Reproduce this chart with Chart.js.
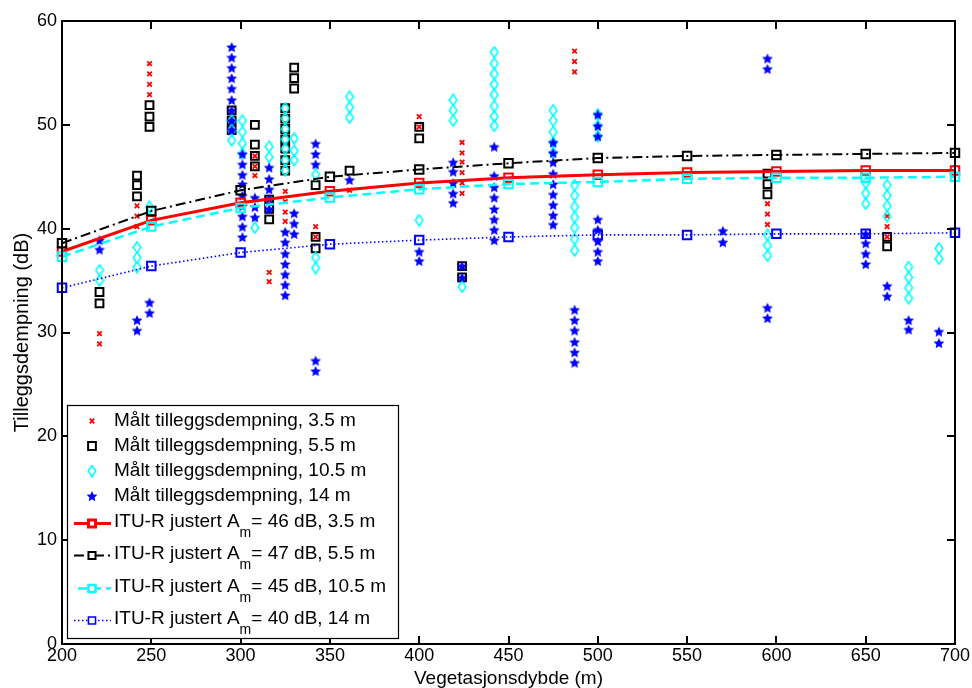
<!DOCTYPE html>
<html>
<head>
<meta charset="utf-8">
<title>Tilleggsdempning</title>
<script src="https://cdn.jsdelivr.net/npm/chart.js@4.4.0/dist/chart.umd.min.js"></script>
<style>
    html, body { margin: 0; padding: 0; background: #fff; }
    #chart { display: block; }
</style>
</head>
<body>
<canvas id="chart" width="972" height="688"></canvas>
<script>
// Measured extra attenuation, antenna height 3.5 m
const depth35 = [221, 221, 242, 242, 242, 249, 249, 249, 249, 295, 295, 308, 308, 308, 316, 316,
    325, 325, 325, 325, 342, 342, 361, 400, 400, 424, 424, 424, 424, 424, 424,
    487, 487, 487, 595, 595, 595, 662, 662, 662];
const meas35 = [29.9, 28.9, 42.2, 41.2, 40.2, 55.9, 54.9, 53.9, 52.9, 50.4, 49.5, 47.0, 46.0, 45.1, 35.8, 34.9,
    43.6, 42.6, 41.6, 40.7, 40.2, 39.2, 43.7, 50.8, 49.8, 48.3, 47.3, 46.4, 45.4, 44.4, 43.4,
    57.1, 56.1, 55.1, 42.4, 41.4, 40.4, 41.2, 40.2, 39.2];

// 5.5 m
const depth55 = [221, 221, 242, 242, 242, 249, 249, 249, 295, 295, 295, 308, 308, 308, 308, 316, 316, 316,
    325, 325, 325, 325, 325, 325, 325, 330, 330, 330, 342, 342, 342, 361, 400, 400,
    424, 424, 595, 595, 595, 662, 662];
const meas55 = [33.9, 32.8, 45.1, 44.2, 43.1, 51.9, 50.8, 49.8, 51.4, 50.4, 49.5, 50.0, 48.1, 47.0, 46.0, 42.8, 41.9, 40.9,
    51.6, 50.6, 49.6, 48.6, 47.7, 46.6, 45.6, 55.5, 54.5, 53.5, 44.2, 39.2, 38.1, 45.6, 49.8, 48.7,
    36.4, 35.3, 45.3, 44.3, 43.3, 39.2, 38.3];

// 10.5 m
const depth105 = [221, 221, 242, 242, 242, 249, 249, 295, 295, 295, 301, 301, 301, 301, 308, 316, 316,
    325, 325, 325, 325, 325, 325, 325, 330, 330, 330, 342, 342, 342, 361, 361, 361, 400,
    419, 419, 419, 424, 442, 442, 442, 442, 442, 442, 442, 442, 475, 475, 475, 475, 475,
    487, 487, 487, 487, 487, 487, 487, 500, 500, 500, 595, 595, 595, 650, 650, 650,
    662, 662, 662, 662, 674, 674, 674, 674, 691, 691];
const meas105 = [36.0, 35.0, 38.2, 37.2, 36.3, 42.1, 41.1, 50.4, 49.5, 48.5, 50.4, 49.3, 48.2, 47.2, 40.1, 47.9, 46.9,
    51.6, 50.6, 49.6, 48.6, 47.7, 46.6, 45.6, 48.7, 47.5, 46.6, 45.2, 37.2, 36.2, 52.7, 51.7, 50.7, 40.8,
    52.4, 51.4, 50.4, 34.4, 57.0, 55.9, 54.9, 53.9, 52.9, 51.8, 50.8, 49.9, 51.4, 50.4, 49.3, 48.3, 47.3,
    44.2, 43.2, 42.1, 41.1, 40.1, 39.0, 37.9, 51.0, 49.9, 48.9, 39.4, 38.4, 37.4, 44.4, 43.4, 42.4,
    44.2, 43.2, 42.2, 41.2, 36.3, 35.3, 34.3, 33.3, 38.1, 37.1];

// 14 m
const depth14 = [221, 221, 242, 242, 249, 249, 295, 295, 295, 295, 295, 295, 295, 295, 295,
    301, 301, 301, 301, 301, 301, 301, 301, 301, 308, 308, 308, 316, 316, 316, 316, 316,
    325, 325, 325, 325, 325, 325, 325, 330, 330, 330, 342, 342, 342, 342, 342, 361, 400, 400,
    419, 419, 419, 419, 419, 424, 424, 442, 442, 442, 442, 442, 442, 442, 442,
    475, 475, 475, 475, 475, 475, 475, 475, 475, 487, 487, 487, 487, 487, 487,
    500, 500, 500, 500, 500, 500, 500, 500, 570, 570, 595, 595, 595, 595,
    650, 650, 650, 650, 662, 662, 674, 674, 691, 691];
const meas14 = [38.9, 38.0, 31.2, 30.2, 32.9, 31.9, 57.5, 56.5, 55.5, 54.5, 53.5, 52.4, 51.4, 50.4, 49.5,
    47.2, 46.2, 45.2, 44.3, 43.2, 42.2, 41.2, 40.2, 39.2, 43.0, 42.1, 41.1, 45.9, 44.8, 43.8, 42.9, 41.9,
    39.7, 38.7, 37.6, 36.6, 35.6, 34.6, 33.6, 41.5, 40.5, 39.5, 48.2, 47.2, 46.2, 27.3, 26.3, 44.7, 37.8, 36.9,
    46.4, 45.5, 44.4, 43.4, 42.5, 36.4, 35.3, 47.9, 45.1, 44.0, 43.0, 41.9, 40.9, 39.9, 38.9,
    48.3, 47.3, 46.4, 45.3, 44.3, 43.3, 42.3, 41.3, 40.4, 32.2, 31.2, 30.2, 29.1, 28.1, 27.1,
    51.0, 49.9, 48.9, 40.9, 39.9, 38.8, 37.8, 36.9, 39.8, 38.7, 56.4, 55.4, 32.4, 31.4,
    39.5, 38.6, 37.6, 36.6, 34.5, 33.5, 31.2, 30.3, 30.1, 29.0];

// ITU-R adjusted model curves
const ituDepth = [200, 250, 300, 350, 400, 450, 500, 550, 600, 650, 700];
const itu35 = [37.8, 40.8, 42.5, 43.6, 44.4, 44.9, 45.2, 45.4, 45.5, 45.6, 45.6];
const itu55 = [38.6, 41.7, 43.7, 45.0, 45.7, 46.3, 46.8, 47.0, 47.1, 47.2, 47.3];
const itu105 = [37.3, 40.2, 42.0, 43.0, 43.8, 44.3, 44.5, 44.8, 44.9, 44.9, 45.0];
const itu14 = [34.3, 36.4, 37.7, 38.5, 38.9, 39.2, 39.4, 39.4, 39.5, 39.5, 39.6];

const xTicks = [200, 250, 300, 350, 400, 450, 500, 550, 600, 650, 700];
const yTicks = [0, 10, 20, 30, 40, 50, 60];

const FONT = "'Liberation Sans', Arial, sans-serif";

function pairs(xs, ys) {
    return xs.map((x, i) => ({ x: x, y: ys[i] }));
}

// matlab style markers that chart.js doesn't have
function makeDiamond(color) {
    const c = document.createElement('canvas');
    c.width = 10; c.height = 13;
    const g = c.getContext('2d');
    g.strokeStyle = color;
    g.lineWidth = 1.6;
    g.beginPath();
    g.moveTo(5, 1); g.lineTo(8.8, 6.5); g.lineTo(5, 12); g.lineTo(1.2, 6.5);
    g.closePath();
    g.stroke();
    return c;
}

function makeStar(color) {
    const c = document.createElement('canvas');
    c.width = 12; c.height = 12;
    const g = c.getContext('2d');
    g.fillStyle = color;
    g.beginPath();
    for (let i = 0; i < 10; i++) {
        const r = i % 2 ? 2.7 : 5.6;
        const a = -Math.PI / 2 + i * Math.PI / 5;
        g.lineTo(6 + r * Math.cos(a), 6.6 + r * Math.sin(a));
    }
    g.closePath();
    g.fill();
    return c;
}

const diamondCyan = makeDiamond('#00ffff');
const starBlue = makeStar('#0000ff');

const measSets = [
    { label: 'Målt tilleggsdempning, 3.5 m', data: pairs(depth35, meas35), order: 8,
      pointStyle: 'crossRot', pointRadius: 3.2, borderColor: '#ff0000', pointBorderWidth: 1.8 },
    { label: 'Målt tilleggsdempning, 5.5 m', data: pairs(depth55, meas55), order: 7,
      pointStyle: 'rect', pointRadius: 5.5, borderColor: '#000000', pointBorderWidth: 2 },
    { label: 'Målt tilleggsdempning, 10.5 m', data: pairs(depth105, meas105), order: 6,
      pointStyle: diamondCyan, pointRadius: 6, borderColor: '#00ffff' },
    { label: 'Målt tilleggsdempning, 14 m', data: pairs(depth14, meas14), order: 5,
      pointStyle: starBlue, pointRadius: 6, borderColor: '#0000ff' }
];

const lineSets = [
    { am: '46', h: '3.5', data: pairs(ituDepth, itu35), color: '#ff0000', width: 3, dash: [], order: 4 },
    { am: '47', h: '5.5', data: pairs(ituDepth, itu55), color: '#000000', width: 2, dash: [10, 4, 2, 4], order: 3 },
    { am: '45', h: '10.5', data: pairs(ituDepth, itu105), color: '#00ffff', width: 2.5, dash: [9, 5], order: 2 },
    { am: '40', h: '14', data: pairs(ituDepth, itu14), color: '#0000ff', width: 1.6, dash: [1.5, 2.5], order: 1 }
];

const datasets = [];
measSets.forEach(s => {
    datasets.push({
        type: 'scatter',
        label: s.label,
        data: s.data,
        order: s.order,
        showLine: false,
        pointStyle: s.pointStyle,
        pointRadius: s.pointRadius,
        pointBorderColor: s.borderColor,
        pointBackgroundColor: 'rgba(0,0,0,0)',
        pointBorderWidth: s.pointBorderWidth || 1,
        clip: false
    });
});
lineSets.forEach(s => {
    datasets.push({
        type: 'line',
        label: 'ITU-R justert Am = ' + s.am + ' dB, ' + s.h + ' m',
        data: s.data,
        order: s.order,
        borderColor: s.color,
        borderWidth: s.width,
        borderDash: s.dash,
        tension: 0,
        fill: false,
        pointStyle: 'rect',
        pointRadius: 6,
        pointBorderColor: s.color,
        pointBackgroundColor: 'rgba(0,0,0,0)',
        pointBorderWidth: 2,
        clip: false
    });
});

// matlab box with inward ticks on all four sides
const framePlugin = {
    id: 'frame',
    afterDatasetsDraw(chart) {
        const { ctx, chartArea: a, scales: { x, y } } = chart;
        ctx.save();
        ctx.strokeStyle = '#000';
        ctx.lineWidth = 2;
        ctx.setLineDash([]);
        ctx.strokeRect(a.left, a.top, a.right - a.left, a.bottom - a.top);
        ctx.beginPath();
        xTicks.forEach(v => {
            const px = Math.round(x.getPixelForValue(v));
            ctx.moveTo(px, a.bottom); ctx.lineTo(px, a.bottom - 8);
            ctx.moveTo(px, a.top); ctx.lineTo(px, a.top + 8);
        });
        yTicks.forEach(v => {
            const py = Math.round(y.getPixelForValue(v));
            ctx.moveTo(a.left, py); ctx.lineTo(a.left + 8, py);
            ctx.moveTo(a.right, py); ctx.lineTo(a.right - 8, py);
        });
        ctx.stroke();
        ctx.restore();
    }
};

function drawMarker(ctx, ds, cx, cy) {
    const st = ds.pointStyle;
    if (st instanceof HTMLCanvasElement) {
        ctx.drawImage(st, cx - st.width / 2, cy - st.height / 2);
        return;
    }
    ctx.fillStyle = 'rgba(0,0,0,0)';
    Chart.helpers.drawPoint(ctx, {
        pointStyle: st,
        radius: ds.pointRadius,
        borderWidth: ds.pointBorderWidth,
        rotation: 0
    }, cx, cy);
}

// legend box in the lower left corner, drawn by hand for the subscript
const legendPlugin = {
    id: 'matlabLegend',
    afterDraw(chart) {
        const ctx = chart.ctx;
        const ds = chart.data.datasets;
        const bx = 67.5, by = 405.5, bw = 331, bh = 233;
        const mx = 92, tx = 114;
        const rows = [421, 446, 471, 496, 522, 554, 587, 619];

        ctx.save();
        ctx.fillStyle = '#fff';
        ctx.fillRect(bx, by, bw, bh);
        ctx.strokeStyle = '#000';
        ctx.lineWidth = 1.2;
        ctx.strokeRect(bx, by, bw, bh);

        ctx.textBaseline = 'middle';
        ctx.textAlign = 'left';

        for (let i = 0; i < 4; i++) {
            const d = ds[i];
            ctx.strokeStyle = d.pointBorderColor;
            ctx.lineWidth = d.pointBorderWidth;
            ctx.setLineDash([]);
            drawMarker(ctx, d, mx, rows[i]);
            ctx.fillStyle = '#000';
            ctx.font = '19px ' + FONT;
            ctx.fillText(d.label, tx, rows[i]);
        }

        lineSets.forEach((s, j) => {
            const cy = rows[4 + j];
            const ly = cy + 1.5;
            ctx.strokeStyle = s.color;
            ctx.lineWidth = s.width;
            ctx.setLineDash(s.dash);
            ctx.beginPath();
            ctx.moveTo(j === 2 ? 78 : 74, ly);
            ctx.lineTo(111, ly);
            ctx.stroke();
            ctx.setLineDash([]);
            ctx.fillStyle = '#fff';
            Chart.helpers.drawPoint(ctx, { pointStyle: 'rect', radius: 5, borderWidth: 2, rotation: 0 }, mx, ly);

            ctx.fillStyle = '#000';
            ctx.font = '19px ' + FONT;
            const head = 'ITU-R justert A';
            ctx.fillText(head, tx, cy);
            let x = tx + ctx.measureText(head).width;
            ctx.font = '14px ' + FONT;
            ctx.fillText('m', x, cy + 11);
            x += ctx.measureText('m').width;
            ctx.font = '19px ' + FONT;
            ctx.fillText('= ' + s.am + ' dB, ' + s.h + ' m', x, cy);
        });
        ctx.restore();
    }
};

new Chart(document.getElementById('chart'), {
    type: 'scatter',
    data: { datasets: datasets },
    options: {
        responsive: false,
        animation: false,
        events: [],
        layout: { padding: { top: 21, right: 17, left: 0, bottom: 0 } },
        plugins: {
            legend: { display: false },
            tooltip: { enabled: false }
        },
        scales: {
            x: {
                type: 'linear',
                min: 200,
                max: 700,
                afterBuildTicks: s => { s.ticks = xTicks.map(v => ({ value: v })); },
                afterFit: s => { s.height = 44; },
                ticks: {
                    color: '#000',
                    padding: 1,
                    maxRotation: 0,
                    autoSkip: false,
                    font: { family: FONT, size: 18 }
                },
                grid: { display: false, drawTicks: false },
                border: { display: false },
                title: {
                    display: true,
                    text: 'Vegetasjonsdybde (m)',
                    color: '#000',
                    padding: 0,
                    font: { family: FONT, size: 19, lineHeight: 1 }
                }
            },
            y: {
                type: 'linear',
                min: 0,
                max: 60,
                afterBuildTicks: s => { s.ticks = yTicks.map(v => ({ value: v })); },
                afterFit: s => { s.width = 62; },
                ticks: {
                    color: '#000',
                    padding: 5,
                    font: { family: FONT, size: 18 }
                },
                grid: { display: false, drawTicks: false },
                border: { display: false },
                title: {
                    display: true,
                    text: 'Tilleggsdempning (dB)',
                    color: '#000',
                    padding: { top: 12, bottom: 0 },
                    font: { family: FONT, size: 20, lineHeight: 1 }
                }
            }
        }
    },
    plugins: [framePlugin, legendPlugin]
});
</script>
</body>
</html>
